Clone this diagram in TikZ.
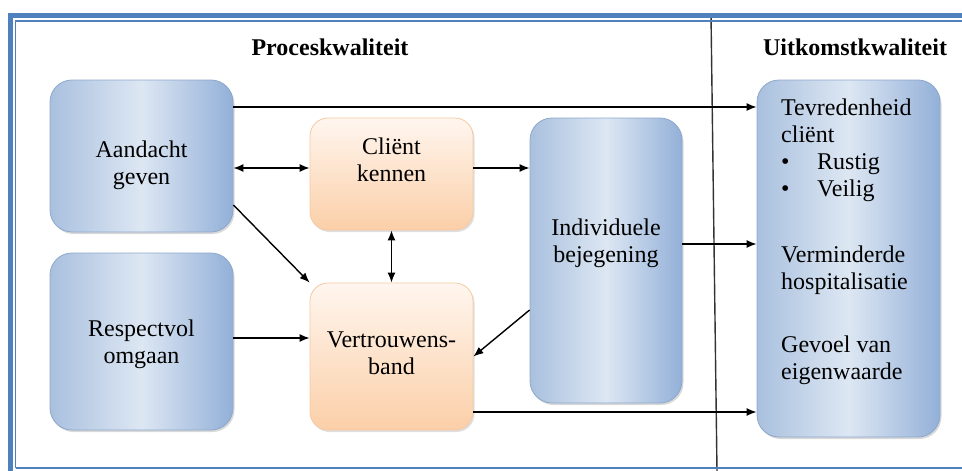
\documentclass[tikz,border=0pt]{standalone}
\usepackage{fontspec}
\setmainfont{Liberation Serif}
\usetikzlibrary{arrows.meta,shadows}

\definecolor{kader}{HTML}{4F81BD}
\definecolor{blauwrand}{HTML}{8DA8CC}
\definecolor{blauwmid}{HTML}{A9C0DE}
\definecolor{blauwdonker}{HTML}{93B0D8}
\definecolor{blauwlicht}{HTML}{DDE7F3}
\definecolor{oranjerand}{HTML}{F6C9A2}
\definecolor{oranjelicht}{HTML}{FFF6EF}
\definecolor{oranjedonker}{HTML}{FBCFA8}

\begin{document}
\begin{tikzpicture}[x=1pt, y=-1pt,
		blauw/.style={rounded corners=22pt, draw=blauwrand, line width=0.8pt,
			left color=blauwmid, right color=blauwdonker, middle color=blauwlicht,
			drop shadow={opacity=0.3, shadow xshift=1.5pt, shadow yshift=-2pt}},
		oranje/.style={rounded corners=18pt, draw=oranjerand, line width=0.8pt,
			top color=oranjelicht, bottom color=oranjedonker,
			drop shadow={opacity=0.25, shadow xshift=1.5pt, shadow yshift=-2pt}},
		tekst/.style={font=\fontsize{24}{27}\selectfont, align=center, inner sep=0pt},
		kop/.style={font=\fontsize{24}{27}\selectfont\bfseries, inner sep=0pt},
		pijl/.style={-{Latex[length=10pt,width=8pt]}, line width=1.4pt},
		dubbel/.style={{Latex[length=10pt,width=8pt]}-{Latex[length=10pt,width=8pt]}, line width=1.4pt},
	]
	\useasboundingbox (0,0) rectangle (962,471);

	% kader en scheidingslijn
	\draw[black!80, line width=1.4pt] (711,14) -- (717,471);
	\draw[kader, line width=5pt] (10,471) -- (10,15) -- (962,15);
	\draw[kader, line width=1.5pt] (15.5,468) -- (15.5,21) -- (962,21);
	\draw[kader, line width=1.5pt] (15.5,468) -- (962,468);

	\node[kop] (proces) at (330,47) {Proceskwaliteit};
	\node[kop] (uitkomstkop) at (855,47) {Uitkomstkwaliteit};

	\node[blauw, minimum width=183pt, minimum height=152pt] (aandacht) at (141.5,156) {};
	\node[oranje, minimum width=163pt, minimum height=112pt] (client) at (391.5,174) {};
	\node[blauw, minimum width=183pt, minimum height=177pt] (respect) at (141.5,341.5) {};
	\node[oranje, minimum width=163pt, minimum height=147pt] (vertrouwen) at (391.5,356.5) {};
	\node[blauw, minimum width=152pt, minimum height=285pt] (individueel) at (606,260.5) {};
	\node[blauw, minimum width=183pt, minimum height=357pt] (uitkomst) at (848.5,258.5) {};

	\node[tekst, yshift=-9pt] (aandachttxt) at (aandacht) {Aandacht\\geven};
	\node[tekst, yshift=14pt] (clienttxt) at (client) {Cliënt\\kennen};
	\node[tekst, yshift=-3pt] (respecttxt) at (respect) {Respectvol\\omgaan};
	\node[tekst, yshift=3pt] (vertrouwentxt) at (vertrouwen) {Vertrouwens-\\band};
	\node[tekst, yshift=17pt] (individueeltxt) at (individueel) {Individuele\\bejegening};

	\node[tekst, align=left, anchor=north west] (tevreden) at (781,99)
		{Tevredenheid\\cliënt\\\makebox[36pt][l]{\textbullet}Rustig\\\makebox[36pt][l]{\textbullet}Veilig};
	\node[tekst, align=left, anchor=north west] (minder) at (781,246) {Verminderde\\hospitalisatie};
	\node[tekst, align=left, anchor=north west] (gevoel) at (781,336) {Gevoel van\\eigenwaarde};

	\draw[pijl] (aandacht.east |- 0,107) -- (uitkomst.west |- 0,107);
	\draw[dubbel] (aandacht.east |- 0,168) -- (client.west |- 0,168);
	\draw[pijl] (client.east |- 0,168) -- (individueel.west |- 0,168);
	\draw[pijl] (aandacht.east |- 0,205) -- (vertrouwen.north west);
	\draw[dubbel] (client.south) -- (vertrouwen.north);
	\draw[pijl] (respect.east |- 0,338) -- (vertrouwen.west |- 0,338);
	\draw[pijl] (individueel.west |- 0,310) -- (vertrouwen.east);
	\draw[pijl] (individueel.east |- 0,244) -- (uitkomst.west |- 0,244);
	\draw[pijl] (vertrouwen.east |- 0,412) -- (uitkomst.west |- 0,412);
\end{tikzpicture}
\end{document}
